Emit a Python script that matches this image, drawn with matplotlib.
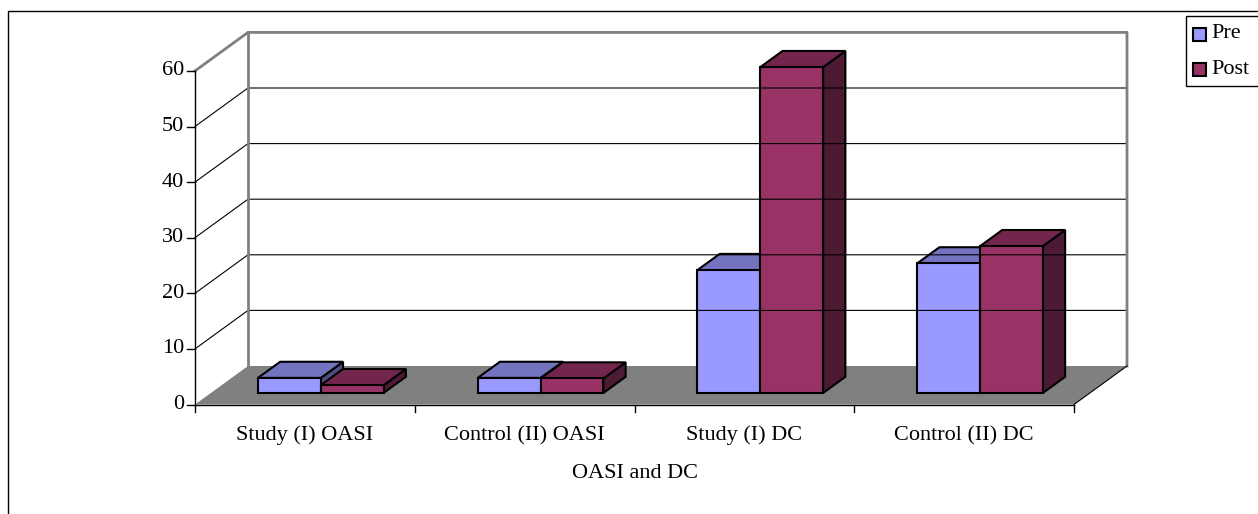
import matplotlib.pyplot as plt
from matplotlib.patches import Polygon, Rectangle

plt.rcParams["font.family"] = ["Liberation Serif", "DejaVu Serif"]

categories = ["Study (I) OASI", "Control (II) OASI", "Study (I) DC", "Control (II) DC"]
pre = [2.7, 2.7, 22.1, 23.3]
post = [1.4, 2.6, 58.6, 26.4]
series_names = ["Pre", "Post"]
y_ticks = [0, 10, 20, 30, 40, 50, 60]
x_title = "OASI and DC"

# front / top / side shades per series
colors = [
    ("#9999FF", "#7373BF", "#4D4D80"),
    ("#993366", "#73264D", "#4D1A33"),
]

W, H = 1258, 514
fig = plt.figure(figsize=(W / 100, H / 100), dpi=100)
ax = fig.add_axes([0, 0, 1, 1])
ax.set_xlim(0, W)
ax.set_ylim(H, 0)
ax.axis("off")

# oblique projection of the 3-D plot box
X0, Y0 = 195, 404.5
CAT_W = 219.75
PX_PER_UNIT = 5.56
DX, DY = 53, 38.5
YMAX = y_ticks[-1]
N = len(categories)


def proj(c, v, d):
    return (X0 + c * CAT_W + d * DX, Y0 - v * PX_PER_UNIT - d * DY)


def poly(points, **kw):
    ax.add_patch(Polygon([proj(*p) for p in points], closed=True, **kw))


def line(points, **kw):
    xy = [proj(*p) for p in points]
    ax.plot([p[0] for p in xy], [p[1] for p in xy], **kw)


# outer chart border (cut off at right and bottom)
ax.plot([8, 8, W], [H, 11, 11], color="black", lw=1)

# walls and floor
poly([(0, 0, 0), (0, YMAX, 0), (0, YMAX, 1), (0, 0, 1)], facecolor="white", edgecolor="none")
poly([(0, 0, 1), (0, YMAX, 1), (N, YMAX, 1), (N, 0, 1)], facecolor="white", edgecolor="none")
poly([(0, 0, 0), (N, 0, 0), (N, 0, 1), (0, 0, 1)], facecolor="#808080", edgecolor="none")

for v in y_ticks[1:]:
    line([(0, v, 0), (0, v, 1), (N, v, 1)], color="black", lw=0.8)

line([(0, YMAX, 0), (0, YMAX, 1), (N, YMAX, 1), (N, 0, 1)], color="#808080", lw=2)
line([(0, 0, 1), (0, YMAX, 1)], color="#808080", lw=2)
line([(N, 0, 0), (N, 0, 1)], color="black", lw=0.8)

# axes
line([(0, 0, 0), (0, YMAX, 0)], color="black", lw=1)
line([(0, 0, 0), (N, 0, 0)], color="black", lw=1)
for v in y_ticks:
    x, y = proj(0, v, 0)
    ax.plot([x - 8, x], [y, y], color="black", lw=1)
    ax.text(x - 11, y, str(v), ha="right", va="center", fontsize=16)
for i in range(N + 1):
    x, y = proj(i, 0, 0)
    ax.plot([x, x], [y, y + 7], color="black", lw=1)
for i, name in enumerate(categories):
    x, y = proj(i + 0.5, 0, 0)
    ax.text(x, y + 31, name, ha="center", va="center", fontsize=16)
x, y = proj(N / 2, 0, 0)
ax.text(x, y + 69, x_title, ha="center", va="center", fontsize=16)

# bars
bw = 0.286
d0, d1 = 0.30, 0.72
edge = dict(edgecolor="black", lw=1.5, joinstyle="miter")
for i in range(N):
    for j, values in enumerate([pre, post]):
        v = values[i]
        cl = i + 0.5 - bw + j * bw
        cr = cl + bw
        front, top, side = colors[j]
        poly([(cr, 0, d0), (cr, 0, d1), (cr, v, d1), (cr, v, d0)], facecolor=side, **edge)
        poly([(cl, v, d0), (cr, v, d0), (cr, v, d1), (cl, v, d1)], facecolor=top, **edge)
        poly([(cl, 0, d0), (cr, 0, d0), (cr, v, d0), (cl, v, d0)], facecolor=front, **edge)

# legend
ax.add_patch(Rectangle((1186, 16), 90, 70, facecolor="white", edgecolor="black", lw=1))
for j, name in enumerate(series_names):
    y = 34 + j * 35.5
    ax.add_patch(Rectangle((1193, y - 6.5), 13, 13, facecolor=colors[j][0],
                           edgecolor="black", lw=1.5))
    ax.text(1211, y, name, ha="left", va="center", fontsize=16)

fig.savefig("out.png", dpi=100)
